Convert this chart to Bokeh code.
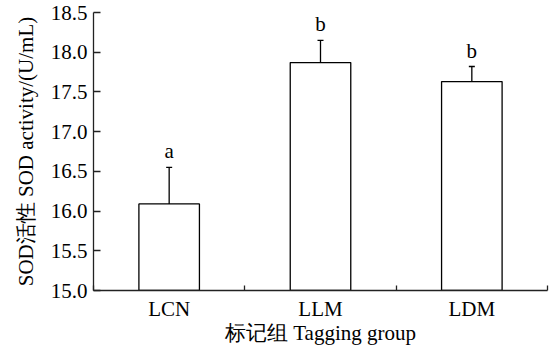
from bokeh.plotting import figure
from bokeh.models import Range1d, FixedTicker, Whisker, ColumnDataSource, TeeHead
from bokeh.embed import file_html
from bokeh.resources import INLINE

categories = ["LCN", "LLM", "LDM"]
means = [16.09, 17.87, 17.63]
errors = [0.46, 0.28, 0.19]
letters = ["a", "b", "b"]
y_ticks = [15.0, 15.5, 16.0, 16.5, 17.0, 17.5, 18.0, 18.5]

FONT = "Liberation Serif"
FS = "21px"

xs = [i + 0.5 for i in range(len(categories))]
src = ColumnDataSource(dict(
    x=xs, top=means, upper=[m + e for m, e in zip(means, errors)],
    lab=letters,
))

p = figure(width=550, height=352, output_backend="svg", toolbar_location=None,
           x_range=Range1d(0, len(categories)), y_range=Range1d(15.0, 18.5),
           min_border_left=93, min_border_right=3, min_border_top=12, min_border_bottom=62)
p.outline_line_color = None
p.grid.grid_line_color = None
p.background_fill_color = "white"

p.vbar(x="x", top="top", bottom=15.0, width=0.4, source=src,
       fill_color="white", line_color="black", line_width=1.3)

w = Whisker(base="x", lower="top", upper="upper", source=src,
            line_color="black", line_width=1.3,
            upper_head=TeeHead(size=6, line_color="black", line_width=1.3),
            lower_head=None)
p.add_layout(w)

p.text(x="x", y="upper", text="lab", source=src, text_align="center",
       text_baseline="bottom", y_offset=-4, text_font_size=FS,
       text_font={"value": FONT}, text_color="black")

# y axis
ya = p.yaxis[0]
ya.ticker = FixedTicker(ticks=y_ticks)
ya.major_label_overrides = {t: f"{t:.1f}" for t in y_ticks}
ya.major_tick_in = 7
ya.major_tick_out = 0
ya.axis_label = "SOD活性 SOD activity/(U/mL)"

# x axis
xa = p.xaxis[0]
xa.ticker = FixedTicker(ticks=xs, minor_ticks=list(range(len(categories) + 1)))
xa.major_label_overrides = {x: c for x, c in zip(xs, categories)}
xa.minor_tick_in = 5
xa.minor_tick_out = 0
xa.axis_label = "标记组 Tagging group"

for ax in (xa, ya):
    ax.axis_line_color = "#222222"
    ax.axis_line_width = 1.3
    ax.major_tick_line_width = 1.3
    ax.minor_tick_line_width = 1.3
    ax.major_tick_line_color = "#222222"
    ax.minor_tick_line_color = "#222222"
    ax.major_label_text_font = FONT
    ax.major_label_text_font_size = FS
    ax.major_label_text_color = "black"
    ax.axis_label_text_font = FONT
    ax.axis_label_text_font_size = FS
    ax.axis_label_text_font_style = "normal"
    ax.axis_label_text_color = "black"

xa.major_tick_line_color = None
ya.minor_tick_line_color = None
ya.major_label_standoff = 6
ya.axis_label_standoff = 10
xa.major_label_standoff = 0
xa.axis_label_standoff = -3

open("out.html", "w").write(file_html(p, INLINE))
